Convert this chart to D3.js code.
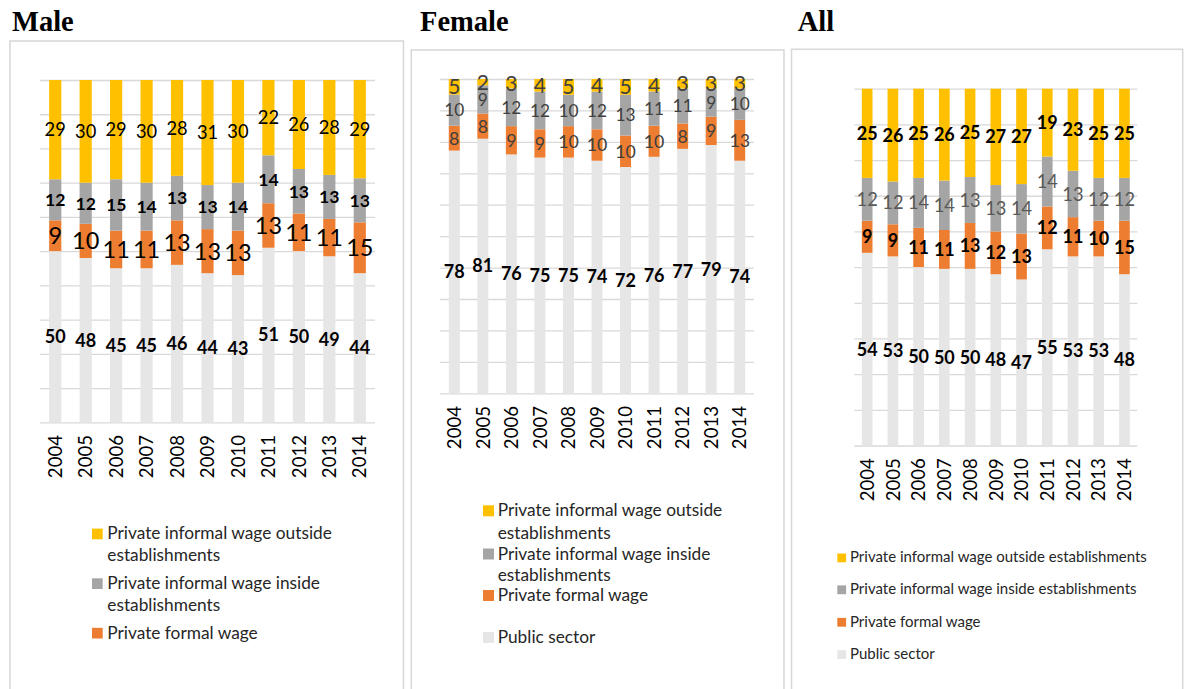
<!DOCTYPE html>
<html>
<head>
<meta charset="utf-8">
<script src="https://cdn.jsdelivr.net/npm/d3@7"></script>
<style>
  html, body { margin: 0; padding: 0; background: #fff; }
  svg { display: block; }
</style>
</head>
<body>
<svg id="chart" width="1184" height="689"></svg>
<script>
// ---------------- DATA ----------------
const years = ["2004","2005","2006","2007","2008","2009","2010","2011","2012","2013","2014"];
const seriesKeys = ["public","formal","inside","outside"];
const seriesLabels = {
  outside: "Private informal wage outside establishments",
  inside: "Private informal wage inside establishments",
  formal: "Private formal wage",
  public: "Public sector"
};
const panelTitles = ["Male", "Female", "All"];

// Male
const malePublic  = [50,48,45,45,46,44,43,51,50,49,44];
const maleFormal  = [9,10,11,11,13,13,13,13,11,11,15];
const maleInside  = [12,12,15,14,13,13,14,14,13,13,13];
const maleOutside = [29,30,29,30,28,31,30,22,26,28,29];

// Female
const femalePublic  = [78,81,76,75,75,74,72,76,77,79,74];
const femaleFormal  = [8,8,9,9,10,10,10,10,8,9,13];
const femaleInside  = [10,9,12,12,10,12,13,11,11,9,10];
const femaleOutside = [5,2,3,4,5,4,5,4,3,3,3];

// All
const allPublic  = [54,53,50,50,50,48,47,55,53,53,48];
const allFormal  = [9,9,11,11,13,12,13,12,11,10,15];
const allInside  = [12,12,14,14,13,13,14,14,13,12,12];
const allOutside = [25,26,25,26,25,27,27,19,23,25,25];

// gridline positions (percent of each bar's total)
const yTicks = [0,10,20,30,40,50,60,70,80,90,100];

// ---------------- STYLE ----------------
const colors = { outside: "#FFC000", inside: "#A5A5A5", formal: "#ED7D31", public: "#E7E6E6" };
const FONT = "Lato, 'Open Sans', sans-serif";
const svg = d3.select("#chart");

function buildRows(pub, formal, inside, outside) {
  return years.map((y, i) => ({ year: y, public: pub[i], formal: formal[i], inside: inside[i], outside: outside[i] }));
}

const panels = [
  {
    title: panelTitles[0], titleX: 12,
    rows: buildRows(malePublic, maleFormal, maleInside, maleOutside),
    box: { x: 10, y: 41, w: 393.5, h: 720 },
    plot: { x0: 40, x1: 375, y0: 80, y1: 422.3 }, pad: 0.6,
    labelStyle: {
      outside: { size: 18.3, weight: 400, color: "#000" },
      inside:  { size: 17.6, weight: 700, color: "#000" },
      formal:  { size: 23.5, weight: 400, color: "#000" },
      public:  { size: 18, weight: 700, color: "#000" }
    },
    legend: {
      swX: 92, sw: 10.7, txX: 107.3, size: 17.3,
      items: [
        { key: "outside", lines: ["Private informal wage outside", "establishments"], base: [539.3, 560.5] },
        { key: "inside",  lines: ["Private informal wage inside", "establishments"], base: [589, 611] },
        { key: "formal",  lines: ["Private formal wage"], base: [638.5] }
      ]
    }
  },
  {
    title: panelTitles[1], titleX: 420,
    rows: buildRows(femalePublic, femaleFormal, femaleInside, femaleOutside),
    box: { x: 411.3, y: 50, w: 372.7, h: 720 },
    plot: { x0: 440, x1: 754, y0: 79, y1: 393.3 }, pad: 0.615,
    labelStyle: {
      outside: { size: 21, weight: 400, color: "#404040" },
      inside:  { size: 17.3, weight: 400, color: "#404040" },
      formal:  { size: 17.8, weight: 400, color: "#404040" },
      public:  { size: 18, weight: 700, color: "#000" }
    },
    legend: {
      swX: 483, sw: 11, txX: 497.7, size: 17.3,
      items: [
        { key: "outside", lines: ["Private informal wage outside", "establishments"], base: [516.3, 538.5] },
        { key: "inside",  lines: ["Private informal wage inside", "establishments"], base: [559.5, 581] },
        { key: "formal",  lines: ["Private formal wage"], base: [601] },
        { key: "public",  lines: ["Public sector"], base: [643] }
      ]
    }
  },
  {
    title: panelTitles[2], titleX: 797.7,
    rows: buildRows(allPublic, allFormal, allInside, allOutside),
    box: { x: 791.5, y: 49.3, w: 391.2, h: 720 },
    plot: { x0: 854.3, x1: 1137.3, y0: 88.7, y1: 445.5 }, pad: 0.585,
    labelStyle: {
      outside: { size: 18, weight: 700, color: "#000" },
      inside:  { size: 18.3, weight: 400, color: "#595959" },
      formal:  { size: 18, weight: 700, color: "#000" },
      public:  { size: 18, weight: 700, color: "#000" }
    },
    legend: {
      swX: 837.3, sw: 8.8, txX: 850, size: 15,
      items: [
        { key: "outside", lines: ["Private informal wage outside establishments"], base: [562.3] },
        { key: "inside",  lines: ["Private informal wage inside establishments"], base: [594.2] },
        { key: "formal",  lines: ["Private formal wage"], base: [626.7] },
        { key: "public",  lines: ["Public sector"], base: [659] }
      ]
    }
  }
];

// 100% stacked bars: each bar is normalised to its total
const stack = d3.stack().keys(seriesKeys).offset(d3.stackOffsetExpand);

panels.forEach(p => {
  // title
  svg.append("text")
    .attr("x", p.titleX).attr("y", 31)
    .attr("font-family", "'Liberation Serif', 'Times New Roman', serif")
    .attr("font-weight", 700).attr("font-size", 28.5)
    .attr("fill", "#000")
    .text(p.title);

  // frame
  svg.append("rect")
    .attr("x", p.box.x).attr("y", p.box.y)
    .attr("width", p.box.w).attr("height", p.box.h)
    .attr("fill", "none").attr("stroke", "#D9D9D9").attr("stroke-width", 1.6);

  const x = d3.scaleBand().domain(years)
    .range([p.plot.x0, p.plot.x1])
    .paddingInner(p.pad).paddingOuter(p.pad / 2);
  const y = d3.scaleLinear().domain([0, 1]).range([p.plot.y1, p.plot.y0]);

  // gridlines
  const grid = svg.append("g")
    .attr("transform", `translate(${p.plot.x0},0)`)
    .call(d3.axisLeft(y).tickValues(yTicks.map(v => v / 100)).tickSize(-(p.plot.x1 - p.plot.x0)).tickFormat(""));
  grid.select(".domain").remove();
  grid.selectAll(".tick line").attr("stroke", "#D9D9D9").attr("stroke-width", 1.3);

  // bars
  const stacked = stack(p.rows);
  const layers = svg.append("g").selectAll("g").data(stacked).join("g")
    .attr("fill", d => colors[d.key]);
  layers.selectAll("rect").data(d => d).join("rect")
    .attr("x", d => x(d.data.year))
    .attr("width", x.bandwidth())
    .attr("y", d => y(d[1]))
    .attr("height", d => y(d[0]) - y(d[1]));

  // data labels
  stacked.forEach(layer => {
    const st = p.labelStyle[layer.key];
    svg.append("g").selectAll("text").data(layer).join("text")
      .attr("x", d => x(d.data.year) + x.bandwidth() / 2)
      .attr("y", d => (y(d[0]) + y(d[1])) / 2)
      .attr("dy", "0.36em")
      .attr("text-anchor", "middle")
      .attr("font-family", FONT)
      .attr("font-size", st.size)
      .attr("font-weight", st.weight)
      .attr("fill", st.color)
      .text(d => d.data[layer.key]);
  });

  // x axis (rotated year labels)
  const xAxis = svg.append("g")
    .attr("transform", `translate(0,${p.plot.y1})`)
    .call(d3.axisBottom(x).tickSize(0));
  xAxis.select(".domain").remove();
  xAxis.selectAll(".tick text")
    .attr("transform", "rotate(-90)")
    .attr("x", -12.7).attr("y", 0).attr("dy", "0.36em")
    .attr("text-anchor", "end")
    .attr("font-family", FONT).attr("font-size", 18.6)
    .attr("fill", "#000");

  // legend
  const lg = p.legend;
  lg.items.forEach(it => {
    svg.append("rect")
      .attr("x", lg.swX).attr("y", it.base[0] - lg.sw)
      .attr("width", lg.sw).attr("height", lg.sw)
      .attr("fill", colors[it.key]);
    it.lines.forEach((ln, i) => {
      svg.append("text")
        .attr("x", lg.txX).attr("y", it.base[i])
        .attr("font-family", FONT).attr("font-size", lg.size)
        .attr("fill", "#262626")
        .text(ln);
    });
  });
});
</script>
</body>
</html>
